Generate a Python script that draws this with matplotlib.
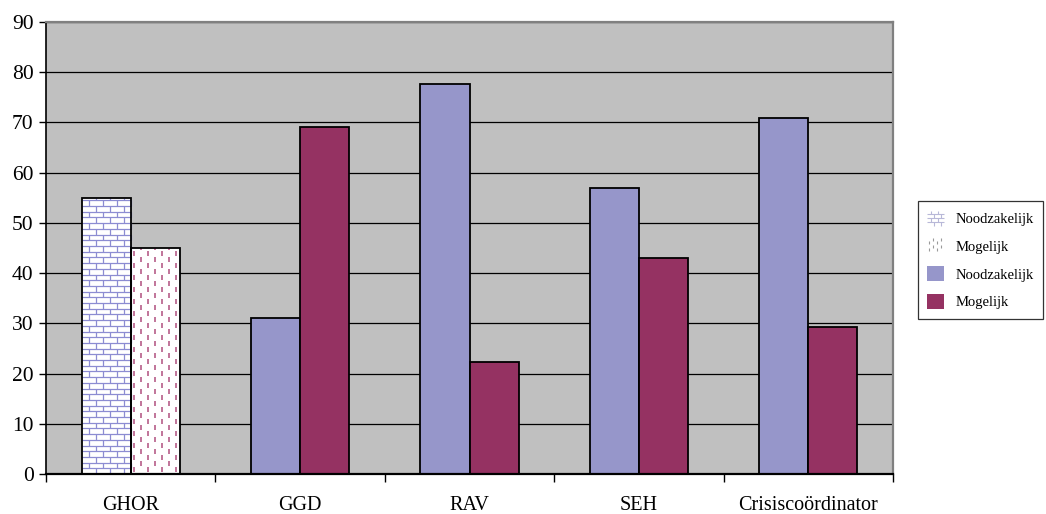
import matplotlib
matplotlib.use("Agg")
import matplotlib.pyplot as plt
from matplotlib.patches import Patch
from matplotlib.collections import LineCollection
from matplotlib.legend_handler import HandlerBase

categories = ["GHOR", "GGD", "RAV", "SEH", "Crisiscoördinator"]
noodzakelijk = [55, 31, 77.7, 57, 70.8]
mogelijk = [45, 69, 22.3, 43, 29.2]

BLUE = "#9696ca"
MAROON = "#953262"
BRICK_LINE = "#8c8cd2"
DASH_LINE = "#b0507e"

plt.rcParams["font.family"] = ["Liberation Serif", "DejaVu Serif"]

DPI = 100
fig = plt.figure(figsize=(10.46, 5.14), dpi=DPI)
ax_px = (46, 40, 847, 452)  # left, bottom, width, height in pixels
ax = fig.add_axes([ax_px[0] / 1046, ax_px[1] / 514, ax_px[2] / 1046, ax_px[3] / 514])
ax.set_facecolor("#c0c0c0")

xmin, xmax = -0.5, len(categories) - 0.5
ymin, ymax = 0, 90
ax.set_xlim(xmin, xmax)
ax.set_ylim(ymin, ymax)

# data units per pixel, used to size the fill patterns
ux = (xmax - xmin) / ax_px[2]
uy = (ymax - ymin) / ax_px[3]


def brick_segments(x0, x1, y0, y1, ux, uy, bw=14, bh=5.7):
    w, h = bw * ux, bh * uy
    segs = []
    y, k = y0, 0
    while y < y1 - 1e-9:
        top = min(y + h, y1)
        if y > y0:
            segs.append([(x0, y), (x1, y)])
        x = x0 + (k % 2) * w / 2
        while x < x1:
            if x > x0:
                segs.append([(x, y), (x, top)])
            x += w
        y += h
        k += 1
    return segs


def dash_segments(x0, x1, y0, y1, ux, uy, sp=7, period=12, dash=5):
    segs = []
    i = 0
    x = x0 + sp * ux / 2
    while x < x1:
        y = y0 + 2 * uy + (i % 2) * period * uy / 2
        while y < y1:
            segs.append([(x, y), (x, min(y + dash * uy, y1))])
            y += period * uy
        x += sp * ux
        i += 1
    return segs


bw = 0.29
for i, (n, m) in enumerate(zip(noodzakelijk, mogelijk)):
    if i == 0:
        # first group uses patterned fills
        ax.bar(i - bw, n, width=bw, align="edge", color="white", zorder=2)
        ax.add_collection(LineCollection(brick_segments(i - bw, i, 0, n, ux, uy),
                                         colors=BRICK_LINE, linewidths=0.9, zorder=2.2))
        ax.bar(i, m, width=bw, align="edge", color="white", zorder=2)
        ax.add_collection(LineCollection(dash_segments(i, i + bw, 0, m, ux, uy),
                                         colors=DASH_LINE, linewidths=1.1, zorder=2.2))
        ax.bar([i - bw, i], [n, m], width=bw, align="edge", fill=False,
               edgecolor="black", linewidth=1.3, zorder=2.4)
    else:
        ax.bar(i - bw, n, width=bw, align="edge", color=BLUE,
               edgecolor="black", linewidth=1.3, zorder=2)
        ax.bar(i, m, width=bw, align="edge", color=MAROON,
               edgecolor="black", linewidth=1.3, zorder=2)

ax.set_yticks(range(0, 91, 10))
ax.yaxis.grid(True, color="black", linewidth=0.9)
ax.set_axisbelow(True)
ax.tick_params(axis="y", direction="out", length=5, width=1, pad=4, labelsize=15.5)

ax.set_xticks(range(len(categories)))
ax.set_xticklabels(categories)
ax.set_xticks([k - 0.5 for k in range(len(categories) + 1)], minor=True)
ax.tick_params(axis="x", which="major", length=0, pad=16, labelsize=14.5)
ax.tick_params(axis="x", which="minor", direction="out", length=6, width=1)

for side in ("top", "right"):
    ax.spines[side].set_color("#808080")
    ax.spines[side].set_linewidth(1.6)
ax.spines["left"].set_color("black")
ax.spines["left"].set_linewidth(1.2)
ax.spines["bottom"].set_color("black")
ax.spines["bottom"].set_linewidth(1.6)


class PatternHandler(HandlerBase):
    def __init__(self, kind):
        super().__init__()
        self.kind = kind

    def create_artists(self, legend, orig_handle, xdescent, ydescent,
                       width, height, fontsize, trans):
        x0, y0 = -xdescent, -ydescent
        p = 72 / DPI  # points per pixel
        if self.kind == "brick":
            segs = brick_segments(x0, x0 + width, y0, y0 + height, p, p, bw=7, bh=4)
            color, lw = "#b8b8d8", 0.8
        else:
            segs = dash_segments(x0, x0 + width, y0, y0 + height, p, p, sp=4, period=7, dash=3)
            color, lw = "#9a9a9a", 0.8
        return [LineCollection(segs, colors=color, linewidths=lw, transform=trans)]


h_brick = Patch(facecolor="white")
h_dash = Patch(facecolor="white")
h_blue = Patch(facecolor=BLUE)
h_maroon = Patch(facecolor=MAROON)
leg = fig.legend([h_brick, h_dash, h_blue, h_maroon],
                 ["Noodzakelijk", "Mogelijk", "Noodzakelijk", "Mogelijk"],
                 handler_map={h_brick: PatternHandler("brick"),
                              h_dash: PatternHandler("dash")},
                 loc="center left", bbox_to_anchor=(918 / 1046, 1 - 260 / 514),
                 fontsize=10.5, frameon=True, fancybox=False, borderpad=0.65,
                 handlelength=1.15, handleheight=1.2, handletextpad=0.75,
                 labelspacing=0.85, borderaxespad=0)
leg.get_frame().set_edgecolor("black")
leg.get_frame().set_linewidth(0.9)

fig.savefig("out.png", dpi=DPI)
